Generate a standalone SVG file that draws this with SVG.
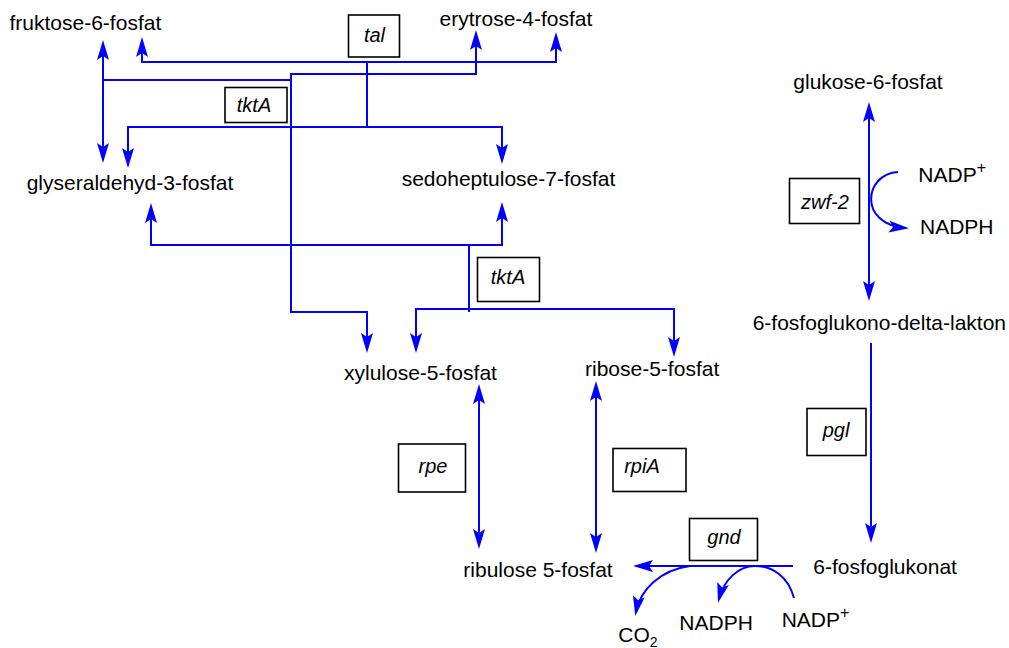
<svg xmlns="http://www.w3.org/2000/svg" width="1009" height="648" viewBox="0 0 1009 648">
  <style>
    .bg { fill: #ffffff; }
    .met { font-family: "Liberation Sans", Arial, sans-serif; font-size: 21px; fill: #000000; }
    .enz rect { fill: #ffffff; stroke: #000000; stroke-width: 1.6; }
    .enz text { font-family: "Liberation Sans", Arial, sans-serif; font-size: 20px; font-style: italic; fill: #000000; text-anchor: middle; }
    .sup { font-size: 16px; }
    .sub { font-size: 14px; }
    .edge { fill: none; stroke: #0000ff; stroke-width: 2; }
    .arr { marker-end: url(#head); }
    .bi { marker-start: url(#head); marker-end: url(#head); }
  </style>
  <defs>
    <!-- notched arrowhead, tip sits 4px beyond the path end -->
    <marker id="head" markerUnits="userSpaceOnUse" viewBox="-21 -7 26 14" refX="-4" refY="0" markerWidth="26" markerHeight="14" orient="auto-start-reverse">
      <path d="M0,0 L-20,-6 L-16,0 L-20,6 Z" fill="#0000ff"/>
    </marker>
  </defs>
  <rect class="bg" x="0" y="0" width="1009" height="648"/>

  <g id="connectors">
    <!-- tktA: xylulose-5-P + erytrose-4-P <-> fruktose-6-P + glyseraldehyd-3-P -->
    <path class="edge bi" d="M103,44 L103,159"/>
    <path class="edge" d="M103,80 L291,80"/>
    <path class="edge bi" d="M476,34 L476,74 L291,74 L291,312 L367,312 L367,349"/>
    <!-- tal: sedoheptulose-7-P + glyseraldehyd-3-P <-> fruktose-6-P + erytrose-4-P -->
    <path class="edge bi" d="M142,41 L142,62 L556,62 L556,36"/>
    <path class="edge" d="M367,62 L367,127"/>
    <path class="edge bi" d="M128,164 L128,127 L502,127 L502,160"/>
    <!-- tktA: xylulose-5-P + ribose-5-P <-> glyseraldehyd-3-P + sedoheptulose-7-P -->
    <path class="edge bi" d="M151,207 L151,245 L502,245 L502,206"/>
    <path class="edge" d="M469,245 L469,312"/>
    <path class="edge bi" d="M416,349 L416,309 L674,309 L674,353"/>
    <!-- rpe / rpiA -->
    <path class="edge bi" d="M479,388 L479,545"/>
    <path class="edge bi" d="M596,385 L596,549"/>
    <!-- zwf-2 -->
    <path class="edge bi" d="M869,106 L869,297"/>
    <path class="edge arr" d="M898,172 C864,174 858,224 905,228"/>
    <!-- pgl -->
    <path class="edge arr" d="M871,343 L871,539"/>
    <!-- gnd -->
    <path class="edge arr" d="M793,566 L637,566"/>
    <path class="edge arr" d="M690,566 C660,570 640,590 636,612"/>
    <path class="edge arr" d="M794,598 C788,576 772,566 755,566 C738,566 724,580 719,599"/>
  </g>

  <g id="fruktose-6-fosfat"><text class="met" x="9.5" y="30">fruktose-6-fosfat</text></g>
  <g id="erytrose-4-fosfat"><text class="met" x="439.5" y="26">erytrose-4-fosfat</text></g>
  <g id="glyseraldehyd-3-fosfat"><text class="met" x="26.7" y="190">glyseraldehyd-3-fosfat</text></g>
  <g id="sedoheptulose-7-fosfat"><text class="met" x="401.7" y="185.5">sedoheptulose-7-fosfat</text></g>
  <g id="xylulose-5-fosfat"><text class="met" x="344" y="380">xylulose-5-fosfat</text></g>
  <g id="ribose-5-fosfat"><text class="met" x="585" y="376">ribose-5-fosfat</text></g>
  <g id="ribulose-5-fosfat"><text class="met" x="463.3" y="577">ribulose 5-fosfat</text></g>
  <g id="glukose-6-fosfat"><text class="met" x="793.3" y="88.5">glukose-6-fosfat</text></g>
  <g id="fosfoglukono-delta-lakton"><text class="met" x="752.7" y="330">6-fosfoglukono-delta-lakton</text></g>
  <g id="fosfoglukonat"><text class="met" x="813.3" y="574">6-fosfoglukonat</text></g>
  <g id="nadp-top"><text class="met" x="918.3" y="181.7">NADP<tspan class="sup" dy="-9">+</tspan></text></g>
  <g id="nadph-top"><text class="met" x="920" y="234">NADPH</text></g>
  <g id="co2"><text class="met" x="618.3" y="641.5">CO<tspan class="sub" dy="5">2</tspan></text></g>
  <g id="nadph-bottom"><text class="met" x="679.3" y="630">NADPH</text></g>
  <g id="nadp-bottom"><text class="met" x="781.7" y="626.7">NADP<tspan class="sup" dy="-9">+</tspan></text></g>

  <g id="enz-tal" class="enz"><rect x="348.5" y="15" width="51" height="42"/><text x="374.5" y="42">tal</text></g>
  <g id="enz-tktA-1" class="enz"><rect x="225" y="87.5" width="62" height="35"/><text x="254" y="112">tktA</text></g>
  <g id="enz-tktA-2" class="enz"><rect x="477.5" y="257.5" width="62" height="44"/><text x="508" y="284">tktA</text></g>
  <g id="enz-zwf-2" class="enz"><rect x="789.5" y="178.5" width="70" height="45"/><text x="825" y="208.5">zwf-2</text></g>
  <g id="enz-pgl" class="enz"><rect x="807" y="408.5" width="59" height="47"/><text x="836" y="437">pgl</text></g>
  <g id="enz-rpe" class="enz"><rect x="398.5" y="444" width="67" height="48"/><text x="433" y="473">rpe</text></g>
  <g id="enz-rpiA" class="enz"><rect x="613" y="448.5" width="73" height="43"/><text x="642" y="473">rpiA</text></g>
  <g id="enz-gnd" class="enz"><rect x="689.5" y="518.5" width="68" height="42"/><text x="724" y="544">gnd</text></g>
</svg>
